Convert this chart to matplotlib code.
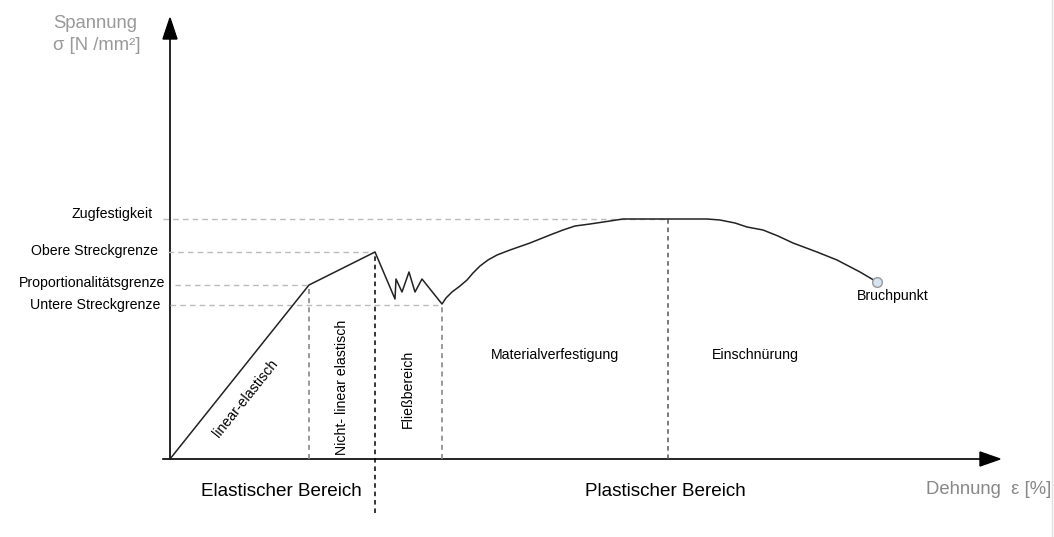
import matplotlib
matplotlib.use("Agg")
import matplotlib.pyplot as plt
from matplotlib.patches import Polygon

plt.rcParams['font.family'] = ['Liberation Sans', 'DejaVu Sans']

# Data: strain (horizontal units) and stress (vertical units), origin at axis crossing
curve_strain = [0, 139, 205, 225, 226, 232, 239, 245, 252, 272,
                276, 282, 290, 297, 303, 310, 318, 327, 340, 360,
                380, 393, 405, 420, 440, 453, 498, 537, 550, 565,
                577, 593, 608, 623, 647, 667, 690, 707]
curve_stress = [0, 174, 207, 160, 180, 167, 187, 167, 180, 155,
                161, 167, 173, 179, 186, 193, 199, 204, 209, 216,
                224, 229, 233, 235, 238, 240, 240, 240, 239, 236,
                232, 229, 223, 216, 207, 199, 187, 177]

# characteristic levels
level_names = ["Zugfestigkeit", "Obere Streckgrenze", "Proportionalitätsgrenze", "Untere Streckgrenze"]
level_stress = [240, 207, 174, 154]
level_strain = [498, 205, 139, 272]
level_line_start = [-7, -2, 5, 0]
label_right = [-17, -12, -5, -10]
label_stress = [245, 208, 176, 154]

# region boundaries
boundary_strain = [139, 205, 272, 498]
boundary_top = [174, 207, 154, 240]

W, H = 1054, 537
OX, OY = 170, 459
fig = plt.figure(figsize=(W / 100, H / 100), dpi=100)
ax = fig.add_axes([0, 0, 1, 1])
ax.set_xlim(-OX, W - OX)
ax.set_ylim(OY - H, OY)
ax.axis('off')

# axes with arrows
ax.plot([-7, 812], [0, 0], color='black', lw=1.2)
ax.add_patch(Polygon([[810, 7], [830, 0], [810, -7]], closed=True, color='black'))
ax.plot([0, 0], [0, 422], color='black', lw=1.2)
ax.add_patch(Polygon([[-7, 420], [0, 441], [7, 420]], closed=True, color='black'))

# horizontal dashed guide lines and labels
for name, s, e, st, lr, ls_ in zip(level_names, level_stress, level_strain, level_line_start,
                                   label_right, label_stress):
    ax.plot([st, e], [s, s], color='#bbbbbb', lw=1, ls=(0, (4, 3)))
    ax.text(lr, ls_, name, ha='right', va='center', fontsize=10.2, color='black')

# vertical boundaries
ax.plot([boundary_strain[0]] * 2, [0, boundary_top[0]], color='#888888', lw=1.2, ls=(0, (3, 2.5)))
ax.plot([boundary_strain[1]] * 2, [-54, boundary_top[1]], color='black', lw=1.1, ls=(0, (3, 2.5)))
ax.plot([boundary_strain[2]] * 2, [0, boundary_top[2]], color='#888888', lw=1.2, ls=(0, (3, 2.5)))
ax.plot([boundary_strain[3]] * 2, [0, boundary_top[3]], color='#555555', lw=1.1, ls=(0, (3, 2.5)))

# curve
ax.plot(curve_strain, curve_stress, color='#222222', lw=1.1, solid_joinstyle='round')
ax.plot(curve_strain[-1], curve_stress[-1], 'o', ms=7, mfc='#d3e3ef', mec='#999999', mew=1)

# region texts
ax.text(76, 61, "linear-elastisch", rotation=51.4, ha='center', va='center', fontsize=10.2)
ax.text(172, 72, "Nicht- linear elastisch", rotation=90, ha='center', va='center', fontsize=10.2)
ax.text(238, 70, "Fließbereich", rotation=90, ha='center', va='center', fontsize=10.2)
ax.text(385, 104, "Materialverfestigung", ha='center', va='center', fontsize=10.2)
ax.text(585, 104, "Einschnürung", ha='center', va='center', fontsize=10.2)
ax.text(723, 163, "Bruchpunkt", ha='center', va='center', fontsize=10.2)

ax.text(111, -33, "Elastischer Bereich", ha='center', va='center', fontsize=13.6)
ax.text(495, -33, "Plastischer Bereich", ha='center', va='center', fontsize=13.6)

# axis titles
ax.text(-117, 435, "Spannung", ha='left', va='center', fontsize=13.3, color='#999999')
ax.text(-117, 413, "σ [N /mm²]", ha='left', va='center', fontsize=13.3, color='#999999')
ax.text(881, -31, "Dehnung  ε [%]", ha='right', va='center', fontsize=13.3, color='#888888')

# faint right border
ax.plot([882, 882], [OY - H, OY], color='#e0e0e0', lw=1)

fig.savefig("out.png", dpi=100)
